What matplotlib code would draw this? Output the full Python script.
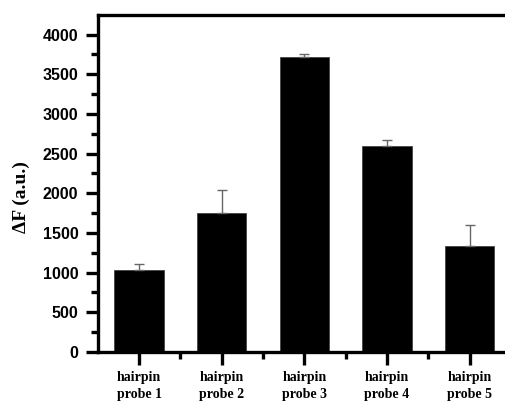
import matplotlib
matplotlib.use("Agg")
import matplotlib.pyplot as plt
from matplotlib.ticker import MultipleLocator, FixedLocator
import numpy as np

# fluorescence change for each hairpin probe, with upper error bars
probes = ["hairpin\nprobe 1", "hairpin\nprobe 2", "hairpin\nprobe 3", "hairpin\nprobe 4", "hairpin\nprobe 5"]
delta_f = [1033, 1755, 3713, 2600, 1332]
err = [72, 287, 42, 76, 273]

SANS = ["Liberation Sans", "DejaVu Sans"]
SERIF = ["Liberation Serif", "DejaVu Serif"]

fig = plt.figure(figsize=(5.06, 4.01), dpi=100)
ax = fig.add_axes([97.7 / 506, 49 / 401, (511 - 97.7) / 506, (352 - 15) / 401])

x = np.arange(1, len(probes) + 1)
ax.bar(x, delta_f, width=0.6, color="black", edgecolor="#444444", linewidth=0.6, zorder=2)
ax.errorbar(x, delta_f, yerr=[np.zeros(len(err)), err], fmt="none", ecolor="#666666",
            elinewidth=1.0, capsize=3.5, capthick=1.0, zorder=3)

ax.set_xlim(0.5, 5.5)
ax.set_ylim(0, 4247)
ax.set_xticks(x)
ax.set_xticklabels(probes, fontfamily=SERIF, fontweight="bold", fontsize=10, linespacing=1.4)
ax.xaxis.set_minor_locator(FixedLocator(np.arange(1.5, 5.5, 1.0)))
ax.yaxis.set_major_locator(MultipleLocator(500))
ax.yaxis.set_minor_locator(MultipleLocator(250))
for lbl in ax.get_yticklabels():
    lbl.set_fontfamily(SANS)
    lbl.set_fontweight("bold")
    lbl.set_fontsize(11.5)

for s in ax.spines.values():
    s.set_linewidth(2.4)
ax.tick_params(axis="both", which="major", direction="out", length=9, width=2.4, pad=5)
ax.tick_params(axis="both", which="minor", direction="out", length=5, width=2.4)
ax.tick_params(axis="y", which="major", pad=5)

fig.text(21 / 506, 1 - 197 / 401, "ΔF (a.u.)", rotation=90, ha="center", va="center",
         fontfamily=SERIF, fontweight="bold", fontsize=14)

fig.savefig("out.png", dpi=100)
